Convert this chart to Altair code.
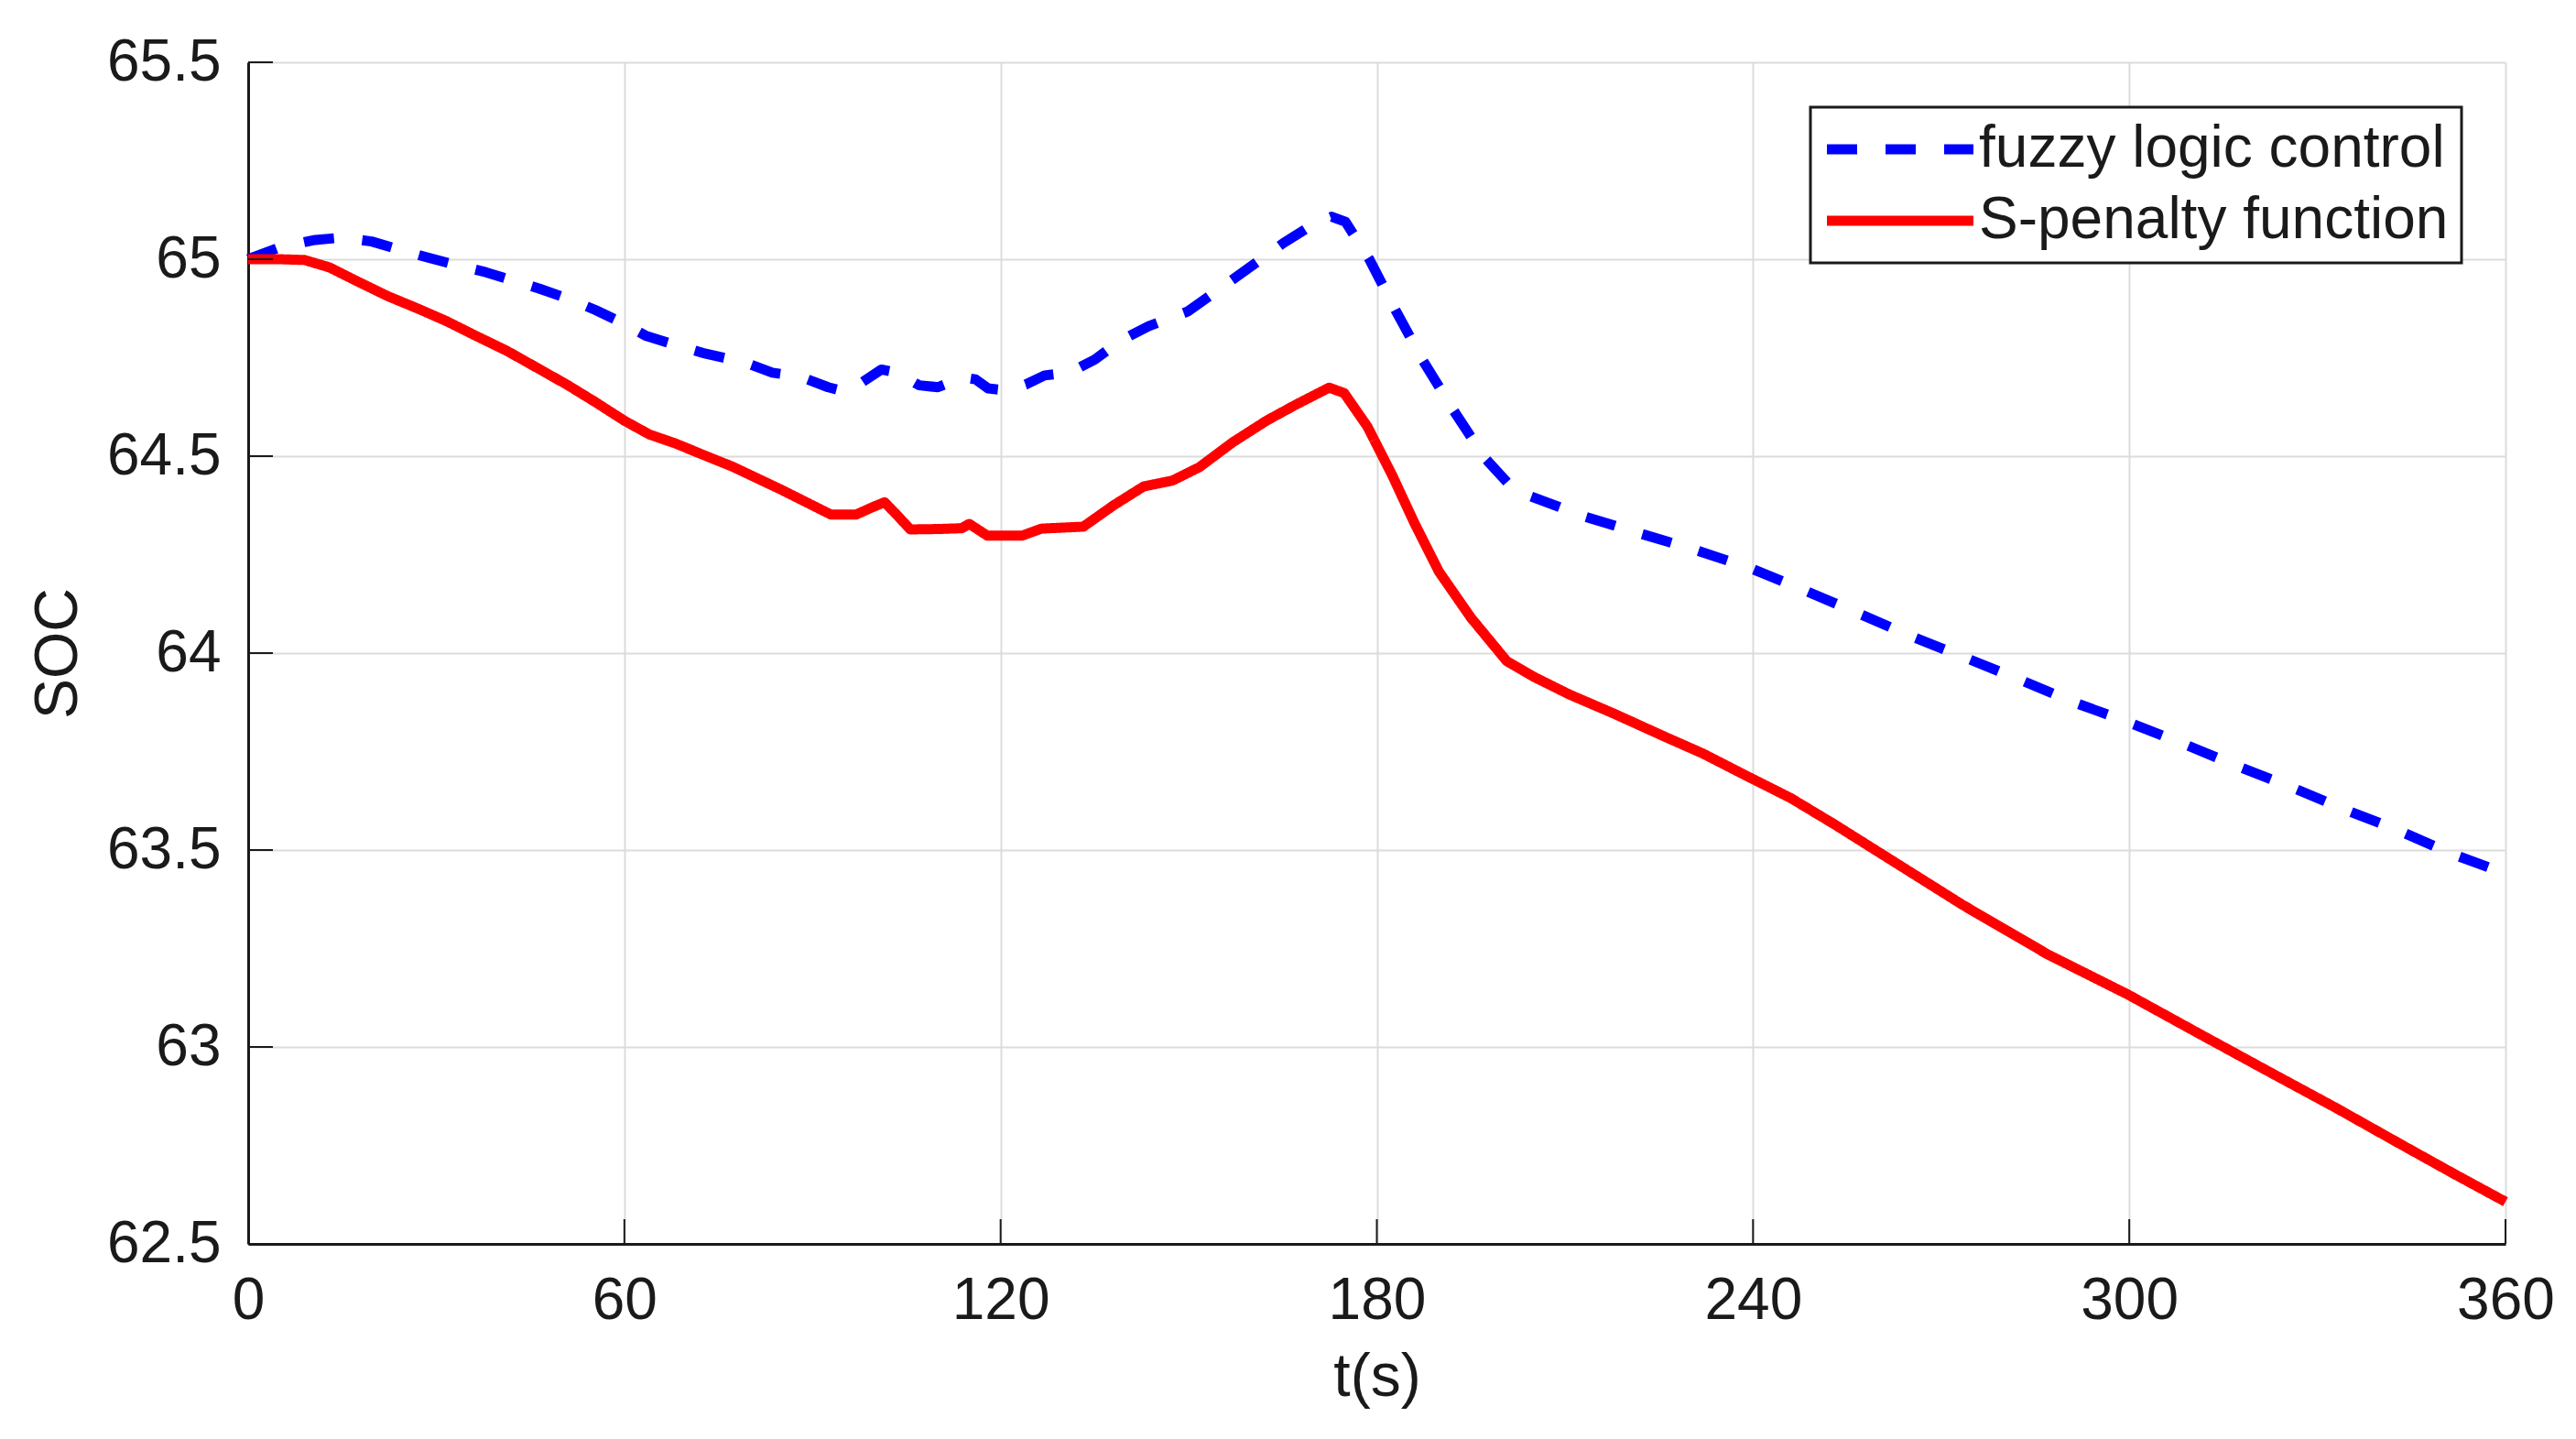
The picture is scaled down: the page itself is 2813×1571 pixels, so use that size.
import altair as alt
import pandas as pd

# ---- data ----
fuzzy_t = [0, 5, 10.7, 15, 19.7, 24, 28.7, 33, 37.9, 42, 46.5, 51, 55.4, 59.5, 63.5, 68, 72.5,
           79, 83.6, 88, 92.5, 94.5, 97, 101, 103.5, 107, 110, 114, 116, 118, 121, 124, 127,
           131, 135, 139, 143.6, 149.8, 157.4, 165.1, 170, 172.8, 175, 178.8, 183, 187.3,
           192.2, 197.3, 201, 204.2, 213.1, 221.7, 230.6, 239.5, 248.1, 256.5, 265.2, 273.9,
           282.5, 291, 299.8, 308.3, 316.9, 325.5, 334.2, 342.9, 351.2, 360]
fuzzy_soc = [65.0, 65.03, 65.049, 65.055, 65.045, 65.025, 65.004, 64.986, 64.967, 64.947, 64.925,
             64.9, 64.871, 64.84, 64.805, 64.783, 64.762,
             64.739, 64.712, 64.702, 64.675, 64.667, 64.678, 64.72, 64.712, 64.68, 64.675, 64.7,
             64.695, 64.672, 64.667, 64.682, 64.705,
             64.712, 64.745, 64.792, 64.83, 64.867, 64.953, 65.041, 65.09, 65.108, 65.095, 65.0,
             64.87, 64.744,
             64.617, 64.494, 64.43, 64.4, 64.347, 64.305, 64.263, 64.216, 64.16, 64.103, 64.043,
             63.988, 63.933, 63.876, 63.825, 63.772, 63.715, 63.662, 63.604, 63.55, 63.492, 63.44]

spen_t = [0, 5, 9, 13, 17, 22.3, 27, 31.6, 36, 41.3, 46, 51, 55.5, 60, 64, 68.2, 72, 77.3, 85,
          92.9, 97, 99.5, 101.5, 103.5, 105.6, 110, 113.8, 115, 117.9, 123.4, 126.5, 133.2, 138,
          142.8, 147.4, 151.7, 157, 162.4, 167, 172.4, 174.8, 178.5, 182.5, 186, 189.9, 195,
          200.7, 205, 210.7, 218, 225.6, 232, 239, 246, 253, 263, 273.5, 287, 299.8, 311, 322.3,
          333, 343.4, 352, 360]
spen_soc = [65.0, 65.0, 64.998, 64.979, 64.947, 64.906, 64.875, 64.843, 64.808, 64.767, 64.725,
            64.68, 64.636, 64.59, 64.555, 64.532, 64.507, 64.473, 64.415,
            64.352, 64.352, 64.37, 64.383, 64.35, 64.314, 64.315, 64.317, 64.328, 64.298, 64.298,
            64.316, 64.321, 64.375,
            64.423, 64.438, 64.472, 64.535, 64.59, 64.63, 64.674, 64.66, 64.575, 64.45, 64.33,
            64.207, 64.09,
            63.98, 63.94, 63.895, 63.845, 63.79, 63.745, 63.688, 63.632, 63.565, 63.465, 63.36,
            63.235, 63.133, 63.035, 62.937, 62.845, 62.752, 62.676, 62.607]

series_names = ["fuzzy logic control", "S-penalty function"]
series_colors = ["#0000FF", "#FF0000"]
x_ticks = [0, 60, 120, 180, 240, 300, 360]
y_ticks = [62.5, 63, 63.5, 64, 64.5, 65, 65.5]

# ---- build tables ----
lines_df = pd.concat([
    pd.DataFrame({"t": fuzzy_t, "soc": fuzzy_soc, "series": series_names[0], "order": range(len(fuzzy_t))}),
    pd.DataFrame({"t": spen_t, "soc": spen_soc, "series": series_names[1], "order": range(len(spen_t))}),
])
xt_df = pd.DataFrame({"v": x_ticks})
yt_df = pd.DataFrame({"v": y_ticks})

W, H = 2465, 1290
FONT = "Liberation Sans"
LW = 11
xscale = alt.Scale(domain=[0, 360], nice=False, zero=False)
yscale = alt.Scale(domain=[62.5, 65.5], nice=False, zero=False)
xaxis = alt.Axis(values=x_ticks, title="t(s)", titleX=W / 2, titleY=145, titleBaseline="middle",
                 labelPadding=30, labelFlush=False)
yaxis = alt.Axis(values=y_ticks, title="SOC", titleX=-208, titleY=H / 2, titleBaseline="middle",
                 labelPadding=30, format="~g", labelFlush=False)

lines = alt.Chart(lines_df).mark_line(strokeWidth=LW, strokeCap="butt", strokeJoin="round").encode(
    x=alt.X("t:Q", scale=xscale, axis=xaxis),
    y=alt.Y("soc:Q", scale=yscale, axis=yaxis),
    color=alt.Color("series:N", scale=alt.Scale(domain=series_names, range=series_colors),
                    legend=alt.Legend(title=None)),
    strokeDash=alt.StrokeDash("series:N", scale=alt.Scale(domain=series_names, range=[[33, 31], [1, 0]]),
                              legend=alt.Legend(title=None)),
    order="order:Q",
)

xticks = alt.Chart(xt_df).mark_rule(color="#1a1a1a", strokeWidth=2).encode(
    x=alt.X("v:Q", scale=xscale, axis=xaxis),
    y=alt.value(H), y2=alt.value(H - 27),
)
yticks = alt.Chart(yt_df).mark_rule(color="#1a1a1a", strokeWidth=2).encode(
    y=alt.Y("v:Q", scale=yscale, axis=yaxis),
    x=alt.value(0), x2=alt.value(27),
)

chart = alt.layer(lines, xticks, yticks).properties(
    width=W, height=H,
    autosize=alt.AutoSizeParams(type="none"),
    padding={"left": 263, "top": 60, "right": 60, "bottom": 190},
    background="white",
).configure(font=FONT).configure_view(strokeWidth=0).configure_axis(
    grid=True, gridColor="#dcdcdc", gridWidth=2,
    domainColor="#1a1a1a", domainWidth=3, ticks=False,
    labelFont=FONT, labelFontSize=64, labelColor="#1a1a1a",
    titleFont=FONT, titleFontSize=66, titleFontWeight="normal", titleColor="#1a1a1a",
).configure_legend(
    orient="none", legendX=1706, legendY=49,
    strokeColor="#1a1a1a", strokeWidth=3, fillColor="white", padding=14,
    symbolType="M-4,0H4", symbolSize=1600, symbolStrokeWidth=LW, symbolOffset=52,
    labelFont=FONT, labelFontSize=64, labelColor="#1a1a1a", labelOffset=54, labelLimit=1000,
    rowPadding=14,
)

chart.save("out.html", embed_options={"renderer": "svg", "actions": False})
